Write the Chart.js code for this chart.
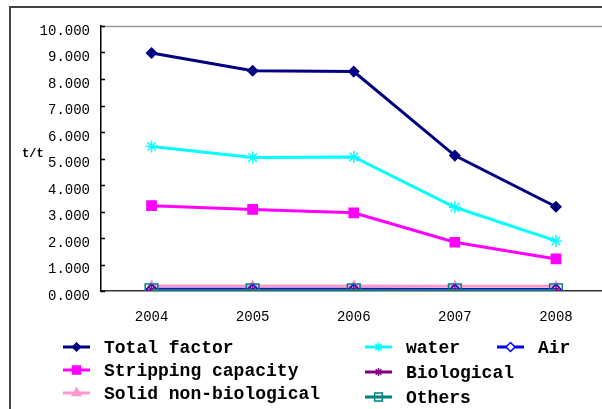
<!DOCTYPE html>
<html>
<head>
<meta charset="utf-8">
<script src="https://cdn.jsdelivr.net/npm/chart.js@4/dist/chart.umd.min.js"></script>
<style>
  html, body { margin: 0; padding: 0; background: #fff; overflow: hidden; }
  #wrap { width: 617px; height: 409px; }
</style>
</head>
<body>
<div id="wrap"><canvas id="c" width="617" height="409"></canvas></div>
<script>
// Emission factors per year (t/t)
const years = ['2004', '2005', '2006', '2007', '2008'];
const totalFactor        = [8.98, 8.31, 8.28, 5.11, 3.18];
const strippingCapacity  = [3.22, 3.08, 2.95, 1.84, 1.21];
const solidNonBiological = [0.19, 0.19, 0.19, 0.18, 0.18];
const water              = [5.45, 5.04, 5.06, 3.16, 1.89];
const biological         = [0.04, 0.04, 0.04, 0.03, 0.03];
const others             = [0.02, 0.02, 0.02, 0.02, 0.02];
const air                = [0.07, 0.07, 0.07, 0.06, 0.06];
const yMin = 0, yMax = 10, yStep = 1;

const MONO = '"Liberation Mono", "DejaVu Sans Mono", monospace';

function series(label, data, color, style, radius, fill, legendRadius, order) {
  return {
    label, data,
    borderColor: color,
    backgroundColor: fill,
    borderWidth: 3,
    pointStyle: style,
    pointRadius: radius,
    pointHoverRadius: radius,
    pointBorderColor: color,
    pointBackgroundColor: fill,
    pointBorderWidth: 1.5,
    legendRadius,
    order,
    tension: 0,
    fill: false
  };
}

const datasets = [
  series('Total factor', totalFactor, '#000080', 'rectRot', 5, '#000080', 4, 0),
  series('Stripping capacity', strippingCapacity, '#FF00FF', 'rect', 6.5, '#FF00FF', 5.5, 0),
  series('Solid non-biological', solidNonBiological, '#FF99CC', 'triangle', 5, '#FF99CC', 5, 3),
  series('water', water, '#00FFFF', 'star', 6, '#00FFFF', 4.5, 0),
  series('Biological', biological, '#800080', 'star', 5, '#800080', 4, 1),
  series('Others', others, '#008080', 'rect', 9, 'rgba(255,255,255,0)', 5.5, -1),
  series('Air', air, '#0000FF', 'rectRot', 5, '#FFFFFF', 4.5, 2)
];

// frame around the chart, top edge of the plot area, inner tick marks, axis unit
const decorations = {
  id: 'decorations',
  beforeDraw(chart) {
    const ctx = chart.ctx;
    ctx.save();
    ctx.fillStyle = '#fff';
    ctx.fillRect(0, 0, chart.width, chart.height);
    ctx.strokeStyle = '#444';
    ctx.lineWidth = 2;
    ctx.beginPath();
    ctx.moveTo(10, chart.height + 2);
    ctx.lineTo(10, 7);
    ctx.lineTo(chart.width + 2, 7);
    ctx.stroke();
    ctx.restore();
  },
  afterDraw(chart) {
    const ctx = chart.ctx;
    const a = chart.chartArea;
    const y = chart.scales.y;
    ctx.save();
    ctx.strokeStyle = '#9a9a9a';
    ctx.lineWidth = 1.5;
    ctx.beginPath();
    ctx.moveTo(a.left, a.top + 0.5);
    ctx.lineTo(chart.width, a.top + 0.5);
    ctx.stroke();
    ctx.strokeStyle = '#000';
    ctx.lineWidth = 1.5;
    ctx.beginPath();
    y.ticks.forEach(t => {
      const py = Math.round(y.getPixelForValue(t.value)) + 0.5;
      ctx.moveTo(a.left, py);
      ctx.lineTo(a.left + 4, py);
    });
    ctx.stroke();
    ctx.fillStyle = '#000';
    ctx.font = 'bold 12px ' + MONO;
    ctx.textAlign = 'left';
    ctx.textBaseline = 'middle';
    ctx.fillText('t/t', 22, (a.top + a.bottom) / 2 - 5);
    ctx.restore();
  }
};

// three-column legend under the axis
const columnLegend = {
  id: 'columnLegend',
  afterDraw(chart) {
    const ctx = chart.ctx;
    const cols = [
      { items: [0, 1, 2], x: 63, y: 347, step: 23 },
      { items: [3, 4, 5], x: 365, y: 347, step: 25 },
      { items: [6], x: 497, y: 347, step: 23 }
    ];
    ctx.save();
    cols.forEach(col => {
      col.items.forEach((di, r) => {
        const ds = chart.data.datasets[di];
        const yy = col.y + r * col.step;
        ctx.strokeStyle = ds.borderColor;
        ctx.lineWidth = 3;
        ctx.beginPath();
        ctx.moveTo(col.x, yy);
        ctx.lineTo(col.x + 27, yy);
        ctx.stroke();
        ctx.fillStyle = ds.pointBackgroundColor;
        ctx.strokeStyle = ds.pointBorderColor;
        ctx.lineWidth = 1.5;
        Chart.helpers.drawPoint(ctx, {
          pointStyle: ds.pointStyle, rotation: 0,
          radius: ds.legendRadius, borderWidth: 1.5
        }, col.x + 13.5, yy);
        ctx.fillStyle = '#000';
        ctx.font = 'bold 18px ' + MONO;
        ctx.textAlign = 'left';
        ctx.textBaseline = 'middle';
        ctx.fillText(ds.label, col.x + 41, yy + 1);
      });
    });
    ctx.restore();
  }
};

new Chart(document.getElementById('c'), {
  type: 'line',
  data: { labels: years, datasets },
  options: {
    responsive: false,
    animation: false,
    events: [],
    layout: { padding: { top: 26, left: 0, right: 1, bottom: 0 } },
    plugins: {
      legend: { display: false },
      title: { display: false },
      tooltip: { enabled: false }
    },
    scales: {
      x: {
        type: 'category',
        offset: true,
        grid: { display: false, drawTicks: false, tickLength: 0 },
        border: { display: true, color: '#333', width: 1.5 },
        ticks: {
          color: '#000',
          font: { family: MONO, size: 14 },
          padding: 18,
          maxRotation: 0
        },
        afterFit(scale) { scale.height = 118; }
      },
      y: {
        min: yMin, max: yMax,
        grid: { display: false, drawTicks: false, tickLength: 0 },
        border: { display: true, color: '#000', width: 1.5 },
        ticks: {
          stepSize: yStep,
          color: '#000',
          font: { family: MONO, size: 14 },
          padding: 11,
          labelOffset: 5,
          callback: v => Number(v).toFixed(3)
        },
        afterFit(scale) { scale.width = 101; }
      }
    }
  },
  plugins: [decorations, columnLegend]
});
</script>
</body>
</html>
